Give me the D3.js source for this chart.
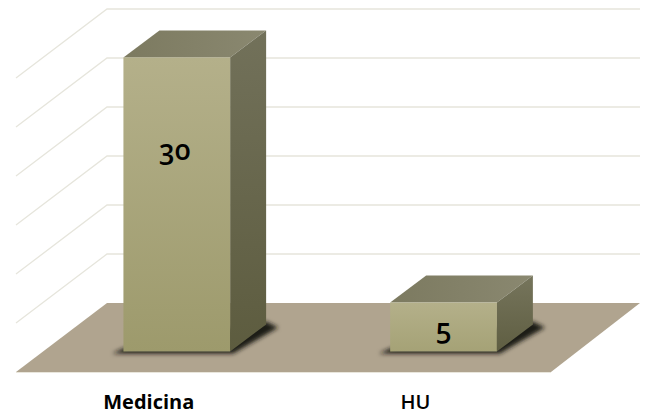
<!DOCTYPE html>
<html><head><meta charset="utf-8">
<script src="https://cdn.jsdelivr.net/npm/d3@7"></script>
<style>html,body{margin:0;padding:0;background:#fff}svg{display:block}
text{font-family:"Open Sans",sans-serif;fill:#000;text-anchor:middle}</style>
</head><body><svg id="c" width="649" height="419"></svg>
<script>
const categories = ["Medicina", "HU"];
const values = [30, 5];
const valueLabels = ["30", "5"];
const yTicks = [0, 5, 10, 15, 20, 25, 30];

const svg = d3.select("#c");
const depthX = 36, depthY = 27;          // bar depth
const floorDX = 91, floorDY = 69;        // floor depth
const x = d3.scaleBand().domain(categories).range([43.4, 576.9]).paddingInner(0.6).paddingOuter(0.3);
const y = d3.scaleLinear().domain([0, 30]).range([303, 9]);
const barBase = 351.5;
const h = v => y(0) - y(v);
const line = d3.line();

const defs = svg.append("defs");
function grad(id, stops, x2, y2) {
  const g = defs.append("linearGradient").attr("id", id)
    .attr("x1", 0).attr("y1", 0).attr("x2", x2).attr("y2", y2);
  stops.forEach(([o, c]) => g.append("stop").attr("offset", o).attr("stop-color", c));
}
grad("front", [[0, "#b4b08a"], [1, "#9d9a6c"]], 0, 1);
grad("frontShort", [[0, "#b4b08a"], [1, "#a5a276"]], 0, 1);
grad("side", [[0, "#72715a"], [1, "#5d5c3f"]], 0, 1);
grad("sideShort", [[0, "#76755c"], [1, "#5f5e42"]], 0, 1);
grad("top", [[0, "#7c7a60"], [1, "#8a8870"]], 1, 0);
defs.append("filter").attr("id", "blur").attr("x", "-20%").attr("y", "-30%").attr("width", "140%").attr("height", "160%")
  .append("feGaussianBlur").attr("stdDeviation", 2.2);

// walls
const gridVals = yTicks.filter(d => d > 0);
svg.append("g").selectAll("path").data(gridVals).join("path")
  .attr("d", d => line([[16, y(d) + floorDY], [16 + floorDX, y(d)], [640, y(d)]]))
  .attr("fill", "none").attr("stroke", "#e6e5dc").attr("stroke-width", 1.3);

// floor
svg.append("path")
  .attr("d", line([[16, y(0) + floorDY], [16 + floorDX, y(0)], [640, y(0)], [551, y(0) + floorDY]]) + "Z")
  .attr("fill", "#b0a48f");
svg.append("path").attr("d", line([[16, y(0) + floorDY + .5], [551, y(0) + floorDY + .5]]))
  .attr("stroke", "#e9e6dc").attr("stroke-width", 1);

// bars
const bars = svg.append("g").selectAll("g").data(categories).join("g");
bars.each(function (c, i) {
  const g = d3.select(this), x0 = x(c), w = x.bandwidth(), x1 = x0 + w, top = barBase - h(values[i]);
  const short = values[i] < 10;
  g.append("path").attr("filter", "url(#blur)").attr("fill", "#1f1d16")
    .attr("d", line([[x0 - 11, barBase + 2], [x1 + 3, barBase + 2], [x1 + depthX + 12, barBase - depthY + 3], [x1 + depthX, barBase - depthY - 3], [x0, barBase - 3]]) + "Z");
  g.append("path").attr("fill", "url(#top)")
    .attr("d", line([[x0, top], [x0 + depthX, top - depthY], [x1 + depthX, top - depthY], [x1, top]]) + "Z");
  g.append("path").attr("fill", short ? "url(#sideShort)" : "url(#side)")
    .attr("d", line([[x1, top], [x1 + depthX, top - depthY], [x1 + depthX, barBase - depthY], [x1, barBase]]) + "Z");
  g.append("rect").attr("x", x0).attr("y", top).attr("width", w).attr("height", barBase - top)
    .attr("fill", short ? "url(#frontShort)" : "url(#front)");
  g.append("text").attr("x", x0 + w / 2 - (short ? 0 : 2)).attr("y", short ? 339 : 160)
    .attr("font-size", 28).attr("font-weight", 600)
    .style("font-feature-settings", '"onum"').text(valueLabels[i]);
});

// category labels
svg.append("g").selectAll("text").data(categories).join("text")
  .attr("x", d => x(d) + x.bandwidth() / 2 - 28)
  .attr("y", 409).attr("font-size", 20)
  .attr("font-weight", (d, i) => i === 0 ? 700 : 600).text(d => d);
</script></body></html>
